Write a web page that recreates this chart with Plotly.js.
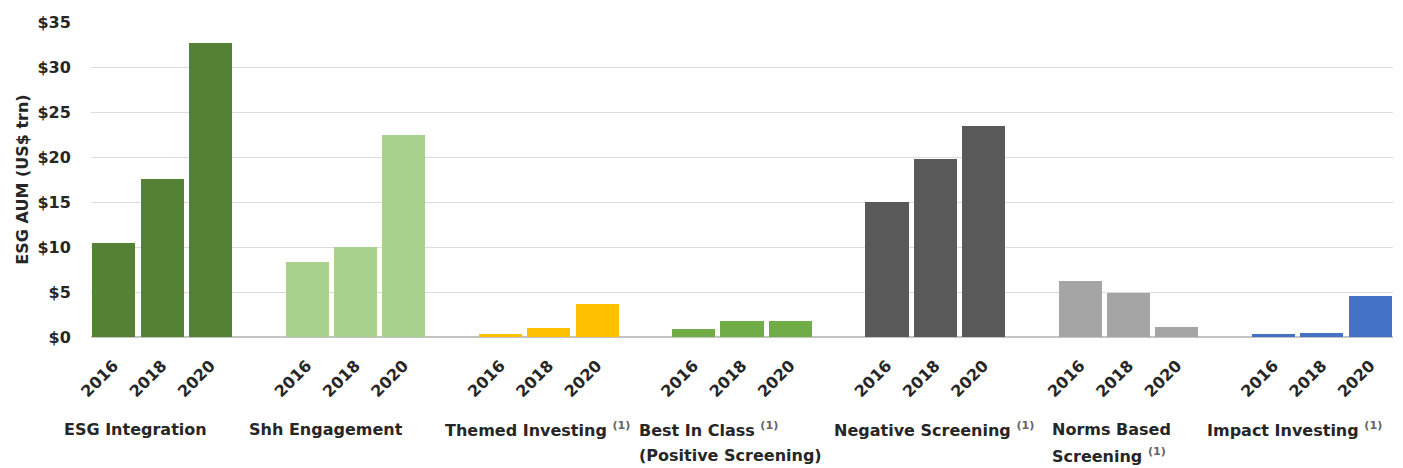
<!DOCTYPE html>
<html>
<head>
<meta charset="utf-8">
<script src="https://cdn.plot.ly/plotly-3.0.1.min.js"></script>
<style>html,body{margin:0;padding:0;background:#fff;}#chart{width:1403px;height:468px;}</style>
</head>
<body>
<div id="chart"></div>
<script>
// ---- data ----
const categories = [
  'ESG Integration',
  'Shh Engagement',
  'Themed Investing <sup>(1)</sup>',
  'Best In Class <sup>(1)</sup><br>(Positive Screening)',
  'Negative Screening <sup>(1)</sup>',
  'Norms Based<br>Screening <sup>(1)</sup>',
  'Impact Investing <sup>(1)</sup>'
];
const years = ['2016', '2018', '2020'];
const esgIntegration   = [10.4, 17.6, 32.7];
const shhEngagement    = [8.3, 10.0, 22.4];
const themedInvesting  = [0.3, 1.0, 3.7];
const bestInClass      = [0.9, 1.8, 1.8];
const negativeScreening = [15.0, 19.8, 23.4];
const normsBased       = [6.2, 4.9, 1.1];
const impactInvesting  = [0.3, 0.5, 4.6];
const seriesValues = [esgIntegration, shhEngagement, themedInvesting, bestInClass,
                      negativeScreening, normsBased, impactInvesting];

// ---- styling ----
const colors = ['#548235', '#A9D18E', '#FFC000', '#70AD47', '#595959', '#A5A5A5', '#4472C4'];
const labelShift = [-1.08, -1.25, -1.19, -1.17, -1.13, -0.62, -1.41]; // label left edge vs group start (slot units)
const slotsPerGroup = 4;
const xRange = [-0.47, 26.47];
const FONT = 'DejaVu Sans, Verdana, sans-serif';
const txtColor = '#262626';
const FS = 16;

const traces = [];
const tickvals = [], ticktext = [];
seriesValues.forEach((vals, g) => {
  const xs = years.map((y, j) => g * slotsPerGroup + j);
  xs.forEach((x, j) => { tickvals.push(x); ticktext.push(years[j]); });
  traces.push({
    type: 'bar',
    x: xs,
    y: vals,
    width: 0.89,
    marker: {color: colors[g], line: {width: 0}},
    name: categories[g],
    hoverinfo: 'y',
    showlegend: false
  });
});

const toPaper = dx => (dx - xRange[0]) / (xRange[1] - xRange[0]);
const lineY = [-0.295, -0.375];
const annotations = [];
categories.forEach((c, g) => {
  const lines = c.split('<br>');
  lines.forEach((ln, k) => {
    annotations.push({
      xref: 'paper', yref: 'paper',
      x: toPaper(g * slotsPerGroup + labelShift[g]), y: lineY[k],
      xanchor: 'left', yanchor: 'middle', align: 'left',
      showarrow: false,
      text: ln.replace('<sup>(1)</sup>', '<sup><span style="color:#666">(1)</span></sup>'),
      font: {family: FONT, size: FS, color: txtColor, weight: 'bold'}
    });
  });
});

const layout = {
  width: 1403, height: 468,
  margin: {l: 91, r: 10, t: 22, b: 131, pad: 0},
  paper_bgcolor: '#fff', plot_bgcolor: '#fff',
  bargap: 0,
  xaxis: {
    type: 'linear', range: xRange, tickmode: 'array', tickvals: tickvals, ticktext: ticktext,
    tickangle: -45, ticks: 'outside', ticklen: 12, tickcolor: 'rgba(0,0,0,0)',
    tickfont: {family: FONT, size: FS, color: txtColor, weight: 'bold'},
    showgrid: false, zeroline: false, showline: false, fixedrange: true
  },
  yaxis: {
    range: [0, 35], dtick: 5, tick0: 0, tickprefix: '$',
    ticks: 'outside', ticklen: 16, tickcolor: 'rgba(0,0,0,0)',
    tickfont: {family: FONT, size: FS, color: txtColor, weight: 'bold'},
    gridcolor: '#dcdcdc', gridwidth: 1,
    zeroline: true, zerolinecolor: '#c4c4c4', zerolinewidth: 1.5,
    showline: false,
    title: {text: 'ESG AUM (US$ trn)', standoff: 4,
            font: {family: FONT, size: FS, color: txtColor, weight: 'bold'}},
    automargin: false, fixedrange: true
  },
  annotations: annotations,
  font: {family: FONT}
};

Plotly.newPlot('chart', traces, layout, {displayModeBar: false, staticPlot: true});
</script>
</body>
</html>
